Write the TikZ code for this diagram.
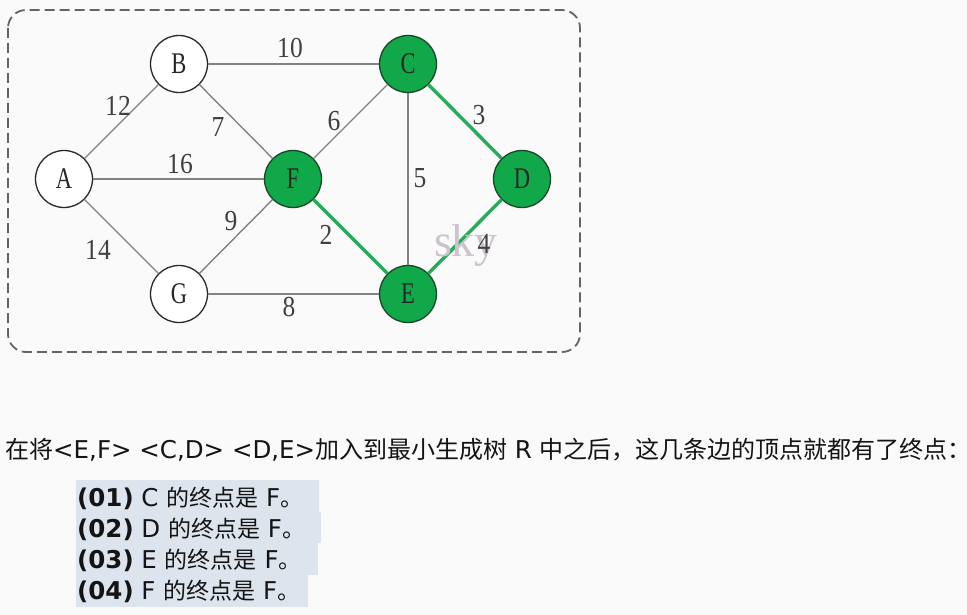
\documentclass[tikz,border=0pt]{standalone}
\usepackage{fontspec}
\setmainfont{DejaVu Sans}
\newfontfamily\cjk{Noto Sans CJK SC}
\newfontfamily\gfont[FakeStretch=0.75]{Liberation Serif}
\newfontfamily\dfont[FakeStretch=0.88]{Liberation Serif}
\newfontfamily\wfont{Liberation Serif}
\definecolor{bgc}{RGB}{250,250,250}
\definecolor{nodegreen}{RGB}{16,168,72}
\definecolor{edgegreen}{RGB}{40,170,90}
\definecolor{nodeborder}{RGB}{40,40,40}
\definecolor{greenborder}{RGB}{25,70,40}
\definecolor{edgegray}{RGB}{130,130,130}
\definecolor{boxgray}{RGB}{100,100,100}
\definecolor{hl}{RGB}{220,228,238}
\definecolor{wm}{RGB}{205,195,205}
\definecolor{txt}{RGB}{20,20,20}
\tikzset{
  vtx/.style={circle, draw=nodeborder, line width=1.3pt, fill=white, minimum size=57pt, inner sep=0pt, font=\gfont\fontsize{30}{30}\selectfont, text=black!85},
  gvtx/.style={vtx, draw=greenborder, fill=nodegreen},
  edge/.style={draw=edgegray, line width=1.4pt},
  tree/.style={draw=edgegreen, line width=3.4pt},
  wlabel/.style={font=\dfont\fontsize{29}{29}\selectfont, text=black!75, inner sep=0pt},
  hlbox/.style={fill=hl, draw=none},
  line/.style={anchor=base west, inner sep=0pt, text=txt}
}
\begin{document}
\begin{tikzpicture}[x=1pt,y=-1pt]
\fill[bgc] (0,0) rectangle (967,615);
\useasboundingbox (0,0) rectangle (967,615);
% frame
\draw[boxgray, line width=1.8pt, dash pattern=on 10pt off 5pt, rounded corners=18pt] (8,10) rectangle (580,352);
% vertices
\node[vtx] (A) at (64,179) {A};
\node[vtx] (B) at (179,64) {B};
\node[gvtx] (C) at (408,64) {C};
\node[gvtx] (D) at (522,179) {D};
\node[gvtx] (E) at (408,294) {E};
\node[gvtx] (F) at (293,179) {F};
\node[vtx] (G) at (179,294) {G};
% edges
\draw[edge] (A) -- (B);
\draw[edge] (A) -- (F);
\draw[edge] (A) -- (G);
\draw[edge] (B) -- (C);
\draw[edge] (B) -- (F);
\draw[edge] (G) -- (F);
\draw[edge] (G) -- (E);
\draw[edge] (F) -- (C);
\draw[edge] (C) -- (E);
\draw[tree] (F) -- (E);
\draw[tree] (C) -- (D);
\draw[tree] (D) -- (E);
% watermark
\node[font=\wfont\fontsize{46}{46}\selectfont, text=wm, inner sep=0pt] (wmk) at (466,246) {sky};
% weights
\node[wlabel] (w10) at (290,48) {10};
\node[wlabel] (w12) at (118,106) {12};
\node[wlabel] (w7) at (218,127) {7};
\node[wlabel] (w6) at (334,121) {6};
\node[wlabel] (w3) at (479,115) {3};
\node[wlabel] (w16) at (180,164) {16};
\node[wlabel] (w5) at (420,178) {5};
\node[wlabel] (w9) at (231,221) {9};
\node[wlabel] (w2) at (326,235) {2};
\node[wlabel] (w14) at (98,250) {14};
\node[wlabel] (w4) at (484,244) {4};
\node[wlabel] (w8) at (289,307) {8};
% text
\node[line, font=\fontsize{24.5}{24.5}\selectfont] (t0) at (5,458) {{\cjk\fontsize{24}{24}\selectfont 在将}<E,F> <C,D> <D,E>{\cjk\fontsize{24}{24}\selectfont 加入到最小生成树} R {\cjk\fontsize{24}{24}\selectfont 中之后，这几条边的顶点就都有了终点：}};
\fill[hlbox] (76,480) rectangle (319,512);
\fill[hlbox] (76,512) rectangle (321,543);
\fill[hlbox] (76,543) rectangle (318,575);
\fill[hlbox] (76,575) rectangle (308,607);
\node[line, font=\fontsize{24.5}{24.5}\selectfont] (l1) at (77,506) {\textbf{(01)} C {\cjk\fontsize{23}{23}\selectfont 的终点是} F{\cjk\fontsize{23}{23}\selectfont 。}};
\node[line, font=\fontsize{24.5}{24.5}\selectfont] (l2) at (77,537) {\textbf{(02)} D {\cjk\fontsize{23}{23}\selectfont 的终点是} F{\cjk\fontsize{23}{23}\selectfont 。}};
\node[line, font=\fontsize{24.5}{24.5}\selectfont] (l3) at (77,568) {\textbf{(03)} E {\cjk\fontsize{23}{23}\selectfont 的终点是} F{\cjk\fontsize{23}{23}\selectfont 。}};
\node[line, font=\fontsize{24.5}{24.5}\selectfont] (l4) at (77,599) {\textbf{(04)} F {\cjk\fontsize{23}{23}\selectfont 的终点是} F{\cjk\fontsize{23}{23}\selectfont 。}};
\end{tikzpicture}
\end{document}
